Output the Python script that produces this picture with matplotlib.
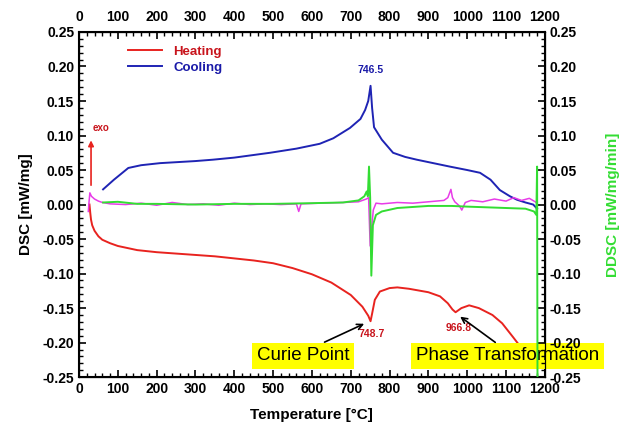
import matplotlib
matplotlib.use("Agg")
import matplotlib.pyplot as plt
from matplotlib.ticker import MultipleLocator

plt.rcParams['font.family'] = ['Liberation Sans', 'DejaVu Sans']
plt.rcParams['font.weight'] = 'bold'

# heating DSC curve
heat_T = [27, 29, 31, 34, 40, 50, 60, 80, 100, 150, 200, 250, 300, 350, 400, 450, 500,
          550, 600, 650, 700, 730, 745, 751, 755, 762, 775, 800, 820, 850, 900, 930,
          950, 962, 970, 985, 1005, 1030, 1065, 1090, 1118, 1140, 1160]
heat_v = [0.0, -0.012, -0.022, -0.030, -0.038, -0.046, -0.051, -0.056, -0.060, -0.066,
          -0.069, -0.071, -0.073, -0.075, -0.078, -0.081, -0.085, -0.092, -0.101, -0.113,
          -0.131, -0.148, -0.161, -0.169, -0.158, -0.138, -0.126, -0.121, -0.120, -0.122,
          -0.127, -0.133, -0.143, -0.152, -0.156, -0.150, -0.146, -0.150, -0.160, -0.172,
          -0.192, -0.208, -0.218]

# cooling DSC curve
cool_T = [62, 90, 127, 160, 209, 300, 345, 400, 492, 560, 620, 655, 698, 725, 737, 745,
          751, 755, 760, 780, 809, 840, 870, 955, 1000, 1033, 1060, 1084, 1110, 1128,
          1150, 1170, 1180]
cool_v = [0.022, 0.036, 0.053, 0.057, 0.060, 0.063, 0.065, 0.068, 0.075, 0.081, 0.088,
          0.096, 0.111, 0.124, 0.137, 0.150, 0.172, 0.140, 0.112, 0.094, 0.075, 0.069,
          0.065, 0.055, 0.050, 0.046, 0.036, 0.021, 0.012, 0.007, 0.003, 0.0, -0.006]

# DDSC heating (magenta)
ddsc_h_T = [24, 26, 28, 32, 40, 50, 60, 80, 120, 160, 200, 240, 280, 320, 360, 400,
            440, 480, 520, 560, 566, 572, 620, 680, 720, 740, 746, 750, 753, 758, 765,
            780, 820, 860, 900, 940, 950, 958, 962, 968, 980, 986, 995, 1010, 1040, 1070,
            1100, 1120, 1140, 1160, 1175, 1180]
ddsc_h_v = [-0.010, 0.005, 0.017, 0.012, 0.008, 0.005, 0.003, 0.001, 0.000, 0.002,
            -0.001, 0.003, 0.000, 0.001, -0.001, 0.002, 0.000, 0.001, 0.000, 0.001,
            -0.010, 0.001, 0.002, 0.003, 0.004, 0.008, 0.010, -0.060, -0.040, -0.008,
            0.002, 0.001, 0.003, 0.002, 0.004, 0.006, 0.010, 0.022, 0.010, 0.004,
            -0.002, -0.008, 0.003, 0.006, 0.004, 0.008, 0.005, 0.010, 0.006, 0.009,
            0.004, 0.002]

# DDSC cooling (green)
ddsc_c_T = [62, 100, 150, 200, 300, 400, 500, 600, 680, 720, 735, 741, 744, 747, 750,
            753, 757, 765, 780, 820, 900, 960, 1000, 1050, 1100, 1150, 1172, 1178, 1180,
            1181]
ddsc_c_v = [0.003, 0.004, 0.001, 0.001, 0.000, 0.001, 0.001, 0.002, 0.003, 0.006,
            0.012, 0.019, 0.012, 0.055, 0.010, -0.103, -0.030, -0.015, -0.010, -0.005,
            -0.002, -0.002, -0.003, -0.004, -0.005, -0.006, -0.010, -0.015, 0.055, -0.25]

red = '#e8231f'
blue = '#1f24b4'
green = '#33dd33'
magenta = '#e83ce8'

fig = plt.figure(figsize=(6.27, 4.32), dpi=100)
ax = fig.add_axes([0.126, 0.127, 0.743, 0.799])
ax.plot(heat_T, heat_v, color=red, lw=1.4, label='Heating', zorder=3)
ax.plot(cool_T, cool_v, color=blue, lw=1.4, label='Cooling', zorder=3)

ax2 = ax.twinx()
ax2.plot(ddsc_h_T, ddsc_h_v, color=magenta, lw=1.1)
ax2.plot(ddsc_c_T, ddsc_c_v, color=green, lw=1.4)
ax2.set_ylim(-0.25, 0.25)

ax3 = ax.twiny()
for a in (ax, ax2, ax3):
    a.tick_params(direction='in', which='both', labelsize=10)
    a.tick_params(which='major', length=5, width=1.2)
    a.tick_params(which='minor', length=3, width=1)
ax3.tick_params(pad=6)

ax.set_xlim(0, 1200)
ax.set_ylim(-0.25, 0.25)
ax3.set_xlim(0, 1200)
for a in (ax, ax3):
    a.xaxis.set_major_locator(MultipleLocator(100))
    a.xaxis.set_minor_locator(MultipleLocator(20))
for a in (ax, ax2):
    a.yaxis.set_major_locator(MultipleLocator(0.05))
    a.yaxis.set_minor_locator(MultipleLocator(0.01))
    a.yaxis.set_major_formatter(matplotlib.ticker.FormatStrFormatter('%.2f'))
ax.tick_params(top=False, right=False)
ax2.tick_params(top=False, left=False)
for s in ax.spines.values():
    s.set_linewidth(1.5)

ax.set_xlabel('Temperature [°C]', fontsize=11, fontweight='bold', labelpad=9)
ax.set_ylabel('DSC [mW/mg]', fontsize=11, fontweight='bold', labelpad=7)
ax2.set_ylabel('DDSC [mW/mg/min]', fontsize=11, fontweight='bold', color=green, labelpad=18)

leg = ax.legend(loc='upper left', bbox_to_anchor=(0.08, 0.995), frameon=False,
                handlelength=2.6, prop={'weight': 'bold', 'size': 9.5}, labelspacing=0.3)
leg.get_texts()[0].set_color('#c8141c')
leg.get_texts()[1].set_color('#1a1aa8')

ax.annotate('', xy=(31, 0.097), xytext=(31, 0.024),
            arrowprops=dict(arrowstyle='-|>', color=red, lw=1.2, mutation_scale=8))
ax.text(36, 0.111, 'exo', color='#c8141c', fontsize=7, fontweight='bold', va='center')

ax.text(752, 0.19, '746.5', color='#1a1aa8', fontsize=7.5, fontweight='bold', ha='center')
ax.text(753, -0.192, '748.7', color='#c8141c', fontsize=7.5, fontweight='bold', ha='center')
ax.text(979, -0.183, '966.8', color='#c8141c', fontsize=7.5, fontweight='bold', ha='center')

box = dict(boxstyle='square,pad=0.25', fc='#ffff00', ec='none')
ax.text(578, -0.219, 'Curie Point', fontsize=13.5, fontweight='normal', ha='center',
        va='center', bbox=box, zorder=5)
ax.text(1103, -0.219, 'Phase Transformation', fontsize=13.5, fontweight='normal',
        ha='center', va='center', bbox=box, zorder=5, clip_on=False)

ax.annotate('', xy=(741, -0.171), xytext=(626, -0.201),
            arrowprops=dict(arrowstyle='->', color='black', lw=1.2), zorder=6)
ax.annotate('', xy=(976, -0.160), xytext=(1078, -0.202),
            arrowprops=dict(arrowstyle='->', color='black', lw=1.2), zorder=6)

fig.savefig('out.png', dpi=100)
